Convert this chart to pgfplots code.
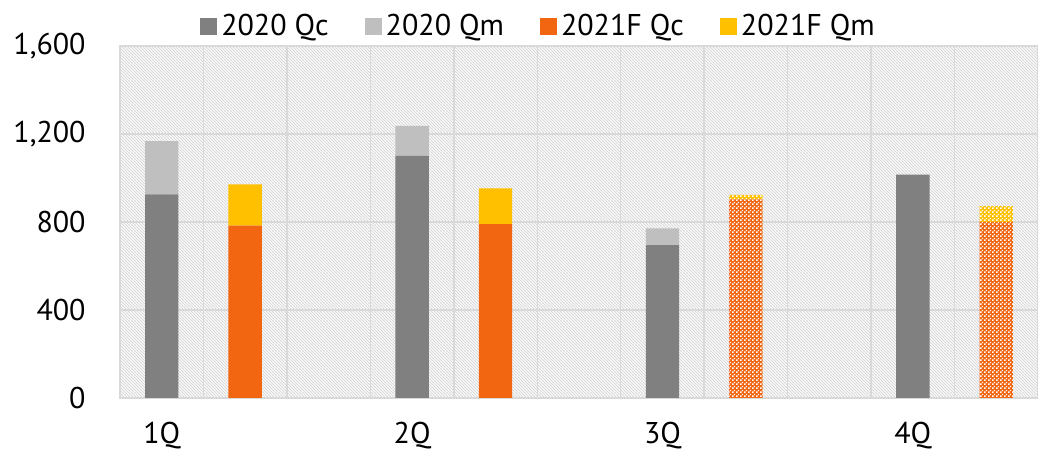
\documentclass[border=0pt]{standalone}
\usepackage{pgfplots}
\pgfplotsset{compat=1.18}
\usepackage{fontspec}
\setmainfont{PT Sans}
\usetikzlibrary{patterns}
\definecolor{dgray}{HTML}{808080}
\definecolor{lgray}{HTML}{BFBFBF}
\definecolor{myorange}{HTML}{F26511}
\definecolor{myyellow}{HTML}{FFC000}
\definecolor{gridc}{HTML}{D9D9D9}
\pgfdeclarepatternformonly{bghatch}{\pgfqpoint{-0.2pt}{-0.2pt}}{\pgfqpoint{1.7pt}{1.7pt}}{\pgfqpoint{1.5pt}{1.5pt}}{%
  \pgfsetlinewidth{0.45pt}%
  \pgfpathmoveto{\pgfqpoint{-0.1pt}{1.6pt}}%
  \pgfpathlineto{\pgfqpoint{1.6pt}{-0.1pt}}%
  \pgfusepath{stroke}%
}
\pgfdeclarepatternformonly{whitechecker}{\pgfqpoint{0pt}{0pt}}{\pgfqpoint{2pt}{2pt}}{\pgfqpoint{2pt}{2pt}}{%
  \pgfpathrectangle{\pgfqpoint{0.1pt}{0.1pt}}{\pgfqpoint{0.85pt}{0.85pt}}%
  \pgfpathrectangle{\pgfqpoint{1.1pt}{1.1pt}}{\pgfqpoint{0.85pt}{0.85pt}}%
  \pgfusepath{fill}%
}
\begin{document}
\fontsize{15pt}{18pt}\selectfont
\begin{tikzpicture}
\begin{axis}[
  scale only axis,
  width=459pt, height=176pt,
  ybar stacked,
  bar width=0.4,
  xmin=-0.5, xmax=10.5,
  ymin=0, ymax=1600,
  ytick={0,400,800,1200,1600},
  xtick={0,3,6,9},
  xticklabels={1Q,2Q,3Q,4Q},
  minor xtick={-0.5,0.5,...,10.5},
  xminorgrids=true, ymajorgrids=true,
  grid style={gridc, line width=0.75pt},
  minor grid style={gridc, line width=0.75pt},
  major tick length=0pt, minor tick length=0pt,
  axis line style={gridc, line width=0.75pt},
  axis background/.style={pattern=bghatch, pattern color=gridc},
  /pgf/number format/assume math mode=true,
  /pgf/number format/1000 sep={,},
  scaled y ticks=false,
  ticklabel style={font=\fontsize{15pt}{18pt}\selectfont},
  yticklabel style={xshift=-12pt},
  xticklabel style={yshift=-7pt},
  legend columns=4,
  legend style={draw=none, fill=none, at={(0.457,1.054)}, anchor=center,
    font=\fontsize{15pt}{18pt}\selectfont,
    /tikz/every even column/.append style={column sep=16pt}},
  legend image code/.code={\fill[#1] (0pt,-4.2pt) rectangle (8.5pt,4.3pt);},
  every axis plot/.append style={draw=none},
  legend cell align=left,
]
% 2020 Qc
\addplot[fill=dgray] coordinates {(0,925) (1,0) (3,1100) (4,0) (6,695) (7,0) (9,1015) (10,0)};
% 2020 Qm
\addplot[fill=lgray] coordinates {(0,243) (1,0) (3,137) (4,0) (6,76) (7,0) (9,0) (10,0)};
% 2021F Qc solid
\addplot[fill=myorange] coordinates {(0,0) (1,783) (3,0) (4,790) (6,0) (7,0) (9,0) (10,0)};
% 2021F Qm solid
\addplot[fill=myyellow] coordinates {(0,0) (1,188) (3,0) (4,163) (6,0) (7,0) (9,0) (10,0)};
% 2021F Qc pattern
\addplot[fill=myorange, postaction={pattern=whitechecker, pattern color=white}] coordinates {(0,0) (1,0) (3,0) (4,0) (6,0) (7,903) (9,0) (10,800)};
% 2021F Qm pattern
\addplot[fill=myyellow, postaction={pattern=whitechecker, pattern color=white}] coordinates {(0,0) (1,0) (3,0) (4,0) (6,0) (7,20) (9,0) (10,72)};
\legend{2020 Qc,2020 Qm,2021F Qc,2021F Qm}
\end{axis}
\pgfresetboundingbox
\path (current axis.south west) ++(-60pt,-27.5pt) coordinate (bl);
\path (current axis.north east) ++(0pt,23pt) coordinate (tr);
\path[use as bounding box] (bl) rectangle (tr);
\end{tikzpicture}
\end{document}
